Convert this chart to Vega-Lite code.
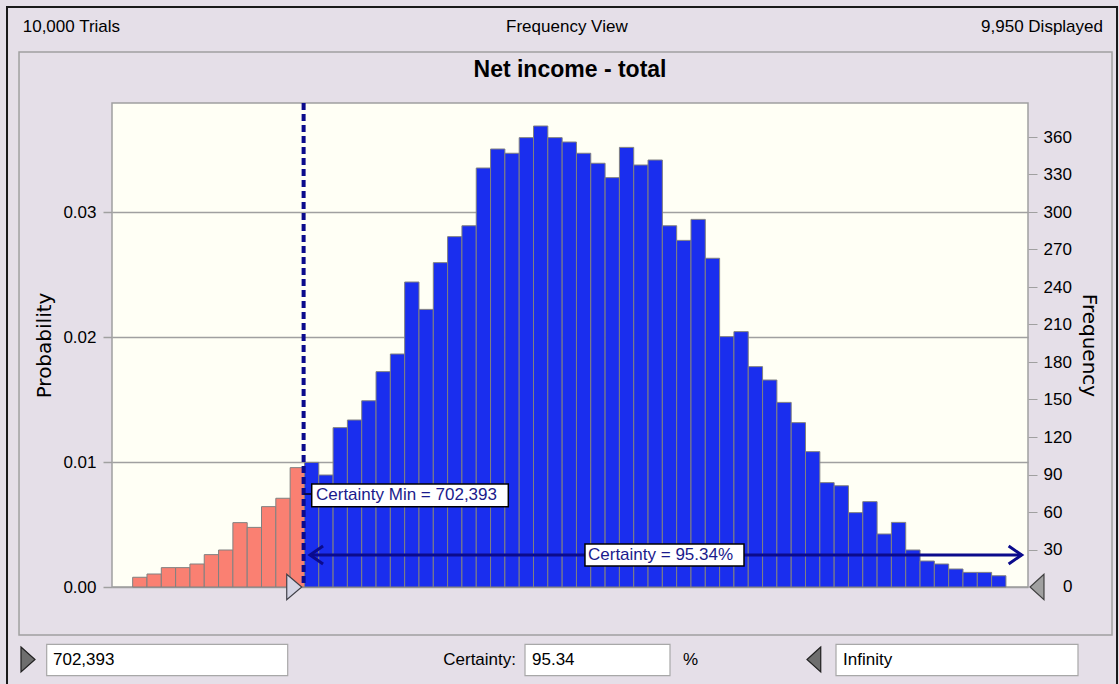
{
  "$schema": "https://vega.github.io/schema/vega-lite/v6.json",
  "width": 916,
  "height": 484,
  "autosize": {"type": "none"},
  "padding": {"left": 112, "top": 103, "right": 91, "bottom": 97},
  "background": "#E5DFE8",
  "config": {
    "font": "Liberation Sans",
    "view": {"fill": "#FFFFF5", "stroke": "#A0A0A0", "strokeWidth": 1.5}
  },
  "datasets": {
    "bins": [
      {"lo": -3127000, "hi": -2806300, "p": 0.00078},
      {"lo": -2806300, "hi": -2485600, "p": 0.00104},
      {"lo": -2485600, "hi": -2164900, "p": 0.00155},
      {"lo": -2164900, "hi": -1844200, "p": 0.00155},
      {"lo": -1844200, "hi": -1523500, "p": 0.00184},
      {"lo": -1523500, "hi": -1202800, "p": 0.00259},
      {"lo": -1202800, "hi": -882100, "p": 0.00296},
      {"lo": -882100, "hi": -561400, "p": 0.00515},
      {"lo": -561400, "hi": -240700, "p": 0.00477},
      {"lo": -240700, "hi": 80000, "p": 0.00643},
      {"lo": 80000, "hi": 400700, "p": 0.0071},
      {"lo": 400700, "hi": 721400, "p": 0.00955},
      {"lo": 721400, "hi": 1042100, "p": 0.00997},
      {"lo": 1042100, "hi": 1362800, "p": 0.00896},
      {"lo": 1362800, "hi": 1683500, "p": 0.01275},
      {"lo": 1683500, "hi": 2004200, "p": 0.01336},
      {"lo": 2004200, "hi": 2324900, "p": 0.0149},
      {"lo": 2324900, "hi": 2645600, "p": 0.01723},
      {"lo": 2645600, "hi": 2966300, "p": 0.01864},
      {"lo": 2966300, "hi": 3287000, "p": 0.0244},
      {"lo": 3287000, "hi": 3607700, "p": 0.02221},
      {"lo": 3607700, "hi": 3928400, "p": 0.02595},
      {"lo": 3928400, "hi": 4249100, "p": 0.02803},
      {"lo": 4249100, "hi": 4569800, "p": 0.0289},
      {"lo": 4569800, "hi": 4890500, "p": 0.03352},
      {"lo": 4890500, "hi": 5211200, "p": 0.03504},
      {"lo": 5211200, "hi": 5531900, "p": 0.0347},
      {"lo": 5531900, "hi": 5852600, "p": 0.03595},
      {"lo": 5852600, "hi": 6173300, "p": 0.03688},
      {"lo": 6173300, "hi": 6494000, "p": 0.03595},
      {"lo": 6494000, "hi": 6814700, "p": 0.0356},
      {"lo": 6814700, "hi": 7135400, "p": 0.0347},
      {"lo": 7135400, "hi": 7456100, "p": 0.0339},
      {"lo": 7456100, "hi": 7776800, "p": 0.03275},
      {"lo": 7776800, "hi": 8097500, "p": 0.03517},
      {"lo": 8097500, "hi": 8418200, "p": 0.03376},
      {"lo": 8418200, "hi": 8738900, "p": 0.03416},
      {"lo": 8738900, "hi": 9059600, "p": 0.0289},
      {"lo": 9059600, "hi": 9380300, "p": 0.02773},
      {"lo": 9380300, "hi": 9701000, "p": 0.02941},
      {"lo": 9701000, "hi": 10021700, "p": 0.0263},
      {"lo": 10021700, "hi": 10342400, "p": 0.02003},
      {"lo": 10342400, "hi": 10663100, "p": 0.02043},
      {"lo": 10663100, "hi": 10983800, "p": 0.01763},
      {"lo": 10983800, "hi": 11304500, "p": 0.01656},
      {"lo": 11304500, "hi": 11625200, "p": 0.01477},
      {"lo": 11625200, "hi": 11945900, "p": 0.01315},
      {"lo": 11945900, "hi": 12266600, "p": 0.01083},
      {"lo": 12266600, "hi": 12587300, "p": 0.00835},
      {"lo": 12587300, "hi": 12908000, "p": 0.0081},
      {"lo": 12908000, "hi": 13228700, "p": 0.00595},
      {"lo": 13228700, "hi": 13549400, "p": 0.00683},
      {"lo": 13549400, "hi": 13870100, "p": 0.00424},
      {"lo": 13870100, "hi": 14190800, "p": 0.00517},
      {"lo": 14190800, "hi": 14511500, "p": 0.00296},
      {"lo": 14511500, "hi": 14832200, "p": 0.00208},
      {"lo": 14832200, "hi": 15152900, "p": 0.00184},
      {"lo": 15152900, "hi": 15473600, "p": 0.00144},
      {"lo": 15473600, "hi": 15794300, "p": 0.00117},
      {"lo": 15794300, "hi": 16115000, "p": 0.00117},
      {"lo": 16115000, "hi": 16435700, "p": 0.0009}
    ]
  },
  "resolve": {"axis": {"y": "independent"}},
  "layer": [
    {
      "data": {"values": [{}]},
      "mark": {"type": "rect", "fill": "transparent", "stroke": "#1A1A1A", "strokeWidth": 2},
      "encoding": {
        "x": {"datum": -5942000, "type": "quantitative", "scale": {"domain": [-3590000, 16930000], "nice": false, "zero": false}, "axis": null},
        "x2": {"datum": 18924000},
        "y": {"datum": 0.0464, "type": "quantitative", "scale": {"domain": [0, 0.03872], "nice": false, "zero": false}, "axis": null},
        "y2": {"datum": -0.00904}
      }
    },
    {
      "data": {"values": [{}]},
      "mark": {"type": "rect", "fill": "transparent", "stroke": "#A0A0A0", "strokeWidth": 1.5},
      "encoding": {
        "x": {"datum": -5673000, "type": "quantitative", "scale": {"domain": [-3590000, 16930000], "nice": false, "zero": false}, "axis": null},
        "x2": {"datum": 18812000},
        "y": {"datum": 0.0428, "type": "quantitative", "scale": {"domain": [0, 0.03872], "nice": false, "zero": false}, "axis": null},
        "y2": {"datum": -0.00384}
      }
    },
    {
      "data": {"name": "bins"},
      "mark": {"type": "bar", "stroke": "#808080", "strokeWidth": 1},
      "encoding": {
        "x": {
          "field": "lo", "type": "quantitative",
          "scale": {"domain": [-3590000, 16930000], "nice": false, "zero": false},
          "axis": {
            "values": [-3000000, 0, 3000000, 6000000, 9000000, 12000000, 15000000],
            "format": ",", "title": null, "grid": false, "domain": false,
            "tickSize": 9, "tickColor": "#808080", "tickWidth": 1,
            "labelFontSize": 17, "labelColor": "#000000", "labelPadding": 3,
            "labelFlush": false, "labelOverlap": false
          }
        },
        "x2": {"field": "hi"},
        "y": {
          "field": "p", "type": "quantitative",
          "scale": {"domain": [0, 0.03872], "nice": false, "zero": false},
          "axis": {
            "values": [0, 0.01, 0.02, 0.03], "format": ".2f",
            "grid": true, "gridColor": "#A0A0A0", "gridWidth": 1.5, "gridOpacity": 1,
            "domain": false, "tickSize": 9, "tickColor": "#A0A0A0", "tickWidth": 1.5,
            "labelFontSize": 17, "labelColor": "#000000", "labelPadding": 7,
            "title": "Probability", "titleFont": "DejaVu Sans", "titleFontSize": 20,
            "titleFontWeight": "normal", "titleColor": "#000000", "titlePadding": 8
          }
        },
        "y2": {"datum": 0},
        "color": {"condition": {"test": "datum.lo < 702393", "value": "#FA8072"}, "value": "#1A2EEE"}
      }
    },
    {
      "data": {"name": "bins"},
      "mark": {"type": "bar", "opacity": 0},
      "encoding": {
        "x": {"field": "lo", "type": "quantitative", "scale": {"domain": [-3590000, 16930000], "nice": false, "zero": false}, "axis": null},
        "x2": {"field": "hi"},
        "y": {
          "field": "p", "type": "quantitative",
          "scale": {"domain": [0, 0.03872], "nice": false, "zero": false},
          "axis": {
            "orient": "right",
            "values": [0.003, 0.006, 0.009, 0.012, 0.015, 0.018, 0.021, 0.024, 0.027, 0.03, 0.033, 0.036],
            "labelExpr": "format(datum.value * 10000, 'd')",
            "grid": false, "domain": false, "tickSize": 9, "tickColor": "#A0A0A0", "tickWidth": 1,
            "labelFontSize": 17, "labelColor": "#000000", "labelPadding": 6,
            "title": "Frequency", "titleFont": "DejaVu Sans", "titleFontSize": 20,
            "titleFontWeight": "normal", "titleColor": "#000000", "titlePadding": 7
          }
        },
        "y2": {"datum": 0}
      }
    },
    {
      "data": {"values": [{}]},
      "mark": {"type": "rule", "stroke": "#0B0B8C", "strokeWidth": 4, "strokeDash": [7, 4]},
      "encoding": {
        "x": {"datum": 702393, "type": "quantitative", "scale": {"domain": [-3590000, 16930000], "nice": false, "zero": false}, "axis": null}
      }
    },
    {
      "data": {"values": [{}]},
      "mark": {"type": "rule", "stroke": "#0B0B50", "strokeWidth": 2},
      "encoding": {
        "x": {"datum": 702393, "type": "quantitative", "scale": {"domain": [-3590000, 16930000], "nice": false, "zero": false}, "axis": null},
        "x2": {"datum": 884000},
        "y": {"datum": 0.00744, "type": "quantitative", "scale": {"domain": [0, 0.03872], "nice": false, "zero": false}, "axis": null}
      }
    },
    {
      "data": {"values": [{}]},
      "mark": {"type": "rect", "fill": "#FFFFFF", "stroke": "#000000", "strokeWidth": 1.5},
      "encoding": {
        "x": {"datum": 884000, "type": "quantitative", "scale": {"domain": [-3590000, 16930000], "nice": false, "zero": false}, "axis": null},
        "x2": {"datum": 5288000},
        "y": {"datum": 0.00824, "type": "quantitative", "scale": {"domain": [0, 0.03872], "nice": false, "zero": false}, "axis": null},
        "y2": {"datum": 0.006424}
      }
    },
    {
      "data": {"values": [{"label": "Certainty Min = 702,393"}]},
      "mark": {"type": "text", "align": "left", "baseline": "middle", "fontSize": 17, "color": "#1A1A8C"},
      "encoding": {
        "text": {"field": "label"},
        "x": {"datum": 980000, "type": "quantitative", "scale": {"domain": [-3590000, 16930000], "nice": false, "zero": false}, "axis": null},
        "y": {"datum": 0.007336, "type": "quantitative", "scale": {"domain": [0, 0.03872], "nice": false, "zero": false}, "axis": null}
      }
    },
    {
      "data": {"values": [{}]},
      "mark": {"type": "rule", "stroke": "#0B0B8C", "strokeWidth": 3},
      "encoding": {
        "x": {"datum": 845537, "type": "quantitative", "scale": {"domain": [-3590000, 16930000], "nice": false, "zero": false}, "axis": null},
        "x2": {"datum": 16788827},
        "y": {"datum": 0.00256, "type": "quantitative", "scale": {"domain": [0, 0.03872], "nice": false, "zero": false}, "axis": null}
      }
    },
    {
      "data": {"values": [{}]},
      "mark": {"type": "point", "shape": "M -1.45 -1 L 0 0 L -1.45 1", "size": 324, "filled": false, "stroke": "#0B0B8C", "strokeWidth": 3, "opacity": 1},
      "encoding": {
        "x": {"datum": 16788827, "type": "quantitative", "scale": {"domain": [-3590000, 16930000], "nice": false, "zero": false}, "axis": null},
        "y": {"datum": 0.00256, "type": "quantitative", "scale": {"domain": [0, 0.03872], "nice": false, "zero": false}, "axis": null}
      }
    },
    {
      "data": {"values": [{}]},
      "mark": {"type": "point", "shape": "M 1.45 -1 L 0 0 L 1.45 1", "size": 324, "filled": false, "stroke": "#0B0B8C", "strokeWidth": 3, "opacity": 1},
      "encoding": {
        "x": {"datum": 845537, "type": "quantitative", "scale": {"domain": [-3590000, 16930000], "nice": false, "zero": false}, "axis": null},
        "y": {"datum": 0.00256, "type": "quantitative", "scale": {"domain": [0, 0.03872], "nice": false, "zero": false}, "axis": null}
      }
    },
    {
      "data": {"values": [{}]},
      "mark": {"type": "rect", "fill": "#FFFFFF", "stroke": "#000000", "strokeWidth": 1.5},
      "encoding": {
        "x": {"datum": 7005000, "type": "quantitative", "scale": {"domain": [-3590000, 16930000], "nice": false, "zero": false}, "axis": null},
        "x2": {"datum": 10568000},
        "y": {"datum": 0.00344, "type": "quantitative", "scale": {"domain": [0, 0.03872], "nice": false, "zero": false}, "axis": null},
        "y2": {"datum": 0.00168}
      }
    },
    {
      "data": {"values": [{"label": "Certainty = 95.34%"}]},
      "mark": {"type": "text", "align": "left", "baseline": "middle", "fontSize": 17, "color": "#1A1A8C"},
      "encoding": {
        "text": {"field": "label"},
        "x": {"datum": 7073000, "type": "quantitative", "scale": {"domain": [-3590000, 16930000], "nice": false, "zero": false}, "axis": null},
        "y": {"datum": 0.00256, "type": "quantitative", "scale": {"domain": [0, 0.03872], "nice": false, "zero": false}, "axis": null}
      }
    },
    {
      "data": {"values": [{}]},
      "mark": {"type": "point", "shape": "M -1.18 -1 L 0 0 L -1.18 1 Z", "size": 645, "filled": true, "fill": "#D4D4E4", "stroke": "#404048", "strokeWidth": 1.2, "opacity": 1},
      "encoding": {
        "x": {"datum": 660000, "type": "quantitative", "scale": {"domain": [-3590000, 16930000], "nice": false, "zero": false}, "axis": null},
        "y": {"datum": 0, "type": "quantitative", "scale": {"domain": [0, 0.03872], "nice": false, "zero": false}, "axis": null}
      }
    },
    {
      "data": {"values": [{}]},
      "mark": {"type": "point", "shape": "M 1.1 -1 L 0 0 L 1.1 1 Z", "size": 645, "filled": true, "fill": "#A0A0A0", "stroke": "#404040", "strokeWidth": 1.2, "opacity": 1},
      "encoding": {
        "x": {"datum": 16975000, "type": "quantitative", "scale": {"domain": [-3590000, 16930000], "nice": false, "zero": false}, "axis": null},
        "y": {"datum": 0, "type": "quantitative", "scale": {"domain": [0, 0.03872], "nice": false, "zero": false}, "axis": null}
      }
    },
    {
      "data": {"values": [{"label": "0"}]},
      "mark": {"type": "text", "align": "left", "baseline": "middle", "fontSize": 17, "color": "#000000"},
      "encoding": {
        "text": {"field": "label"},
        "x": {"datum": 17714000, "type": "quantitative", "scale": {"domain": [-3590000, 16930000], "nice": false, "zero": false}, "axis": null},
        "y": {"datum": 0, "type": "quantitative", "scale": {"domain": [0, 0.03872], "nice": false, "zero": false}, "axis": null}
      }
    },
    {
      "data": {"values": [{"label": "Net income - total"}]},
      "mark": {"type": "text", "align": "center", "baseline": "alphabetic", "fontSize": 23, "fontWeight": "bold", "color": "#000000"},
      "encoding": {
        "text": {"field": "label"},
        "x": {"datum": 6670000, "type": "quantitative", "scale": {"domain": [-3590000, 16930000], "nice": false, "zero": false}, "axis": null},
        "y": {"datum": 0.0408, "type": "quantitative", "scale": {"domain": [0, 0.03872], "nice": false, "zero": false}, "axis": null}
      }
    },
    {
      "data": {"values": [{"label": "10,000 Trials"}]},
      "mark": {"type": "text", "align": "left", "baseline": "alphabetic", "fontSize": 17, "color": "#000000"},
      "encoding": {
        "text": {"field": "label"},
        "x": {"datum": -5590000, "type": "quantitative", "scale": {"domain": [-3590000, 16930000], "nice": false, "zero": false}, "axis": null},
        "y": {"datum": 0.044424, "type": "quantitative", "scale": {"domain": [0, 0.03872], "nice": false, "zero": false}, "axis": null}
      }
    },
    {
      "data": {"values": [{"label": "Frequency View"}]},
      "mark": {"type": "text", "align": "center", "baseline": "alphabetic", "fontSize": 17, "color": "#000000"},
      "encoding": {
        "text": {"field": "label"},
        "x": {"datum": 6600000, "type": "quantitative", "scale": {"domain": [-3590000, 16930000], "nice": false, "zero": false}, "axis": null},
        "y": {"datum": 0.044424, "type": "quantitative", "scale": {"domain": [0, 0.03872], "nice": false, "zero": false}, "axis": null}
      }
    },
    {
      "data": {"values": [{"label": "9,950 Displayed"}]},
      "mark": {"type": "text", "align": "right", "baseline": "alphabetic", "fontSize": 17, "color": "#000000"},
      "encoding": {
        "text": {"field": "label"},
        "x": {"datum": 18610000, "type": "quantitative", "scale": {"domain": [-3590000, 16930000], "nice": false, "zero": false}, "axis": null},
        "y": {"datum": 0.044424, "type": "quantitative", "scale": {"domain": [0, 0.03872], "nice": false, "zero": false}, "axis": null}
      }
    },
    {
      "data": {"values": [{}]},
      "mark": {"type": "point", "shape": "M -1.12 -1 L 0 0 L -1.12 1 Z", "size": 625, "filled": true, "fill": "#6E6E6E", "stroke": "#202020", "strokeWidth": 1.2, "opacity": 1},
      "encoding": {
        "x": {"datum": -5315000, "type": "quantitative", "scale": {"domain": [-3590000, 16930000], "nice": false, "zero": false}, "axis": null},
        "y": {"datum": -0.0058, "type": "quantitative", "scale": {"domain": [0, 0.03872], "nice": false, "zero": false}, "axis": null}
      }
    },
    {
      "data": {"values": [{}]},
      "mark": {"type": "rect", "fill": "#FFFFFF", "stroke": "#A8A8A8", "strokeWidth": 1.2},
      "encoding": {
        "x": {"datum": -5053000, "type": "quantitative", "scale": {"domain": [-3590000, 16930000], "nice": false, "zero": false}, "axis": null},
        "x2": {"datum": 346000},
        "y": {"datum": -0.004584, "type": "quantitative", "scale": {"domain": [0, 0.03872], "nice": false, "zero": false}, "axis": null},
        "y2": {"datum": -0.007096}
      }
    },
    {
      "data": {"values": [{"label": "702,393"}]},
      "mark": {"type": "text", "align": "left", "baseline": "middle", "fontSize": 17, "color": "#000000"},
      "encoding": {
        "text": {"field": "label"},
        "x": {"datum": -4912000, "type": "quantitative", "scale": {"domain": [-3590000, 16930000], "nice": false, "zero": false}, "axis": null},
        "y": {"datum": -0.00584, "type": "quantitative", "scale": {"domain": [0, 0.03872], "nice": false, "zero": false}, "axis": null}
      }
    },
    {
      "data": {"values": [{"label": "Certainty:"}]},
      "mark": {"type": "text", "align": "right", "baseline": "middle", "fontSize": 17, "color": "#000000"},
      "encoding": {
        "text": {"field": "label"},
        "x": {"datum": 5460000, "type": "quantitative", "scale": {"domain": [-3590000, 16930000], "nice": false, "zero": false}, "axis": null},
        "y": {"datum": -0.00584, "type": "quantitative", "scale": {"domain": [0, 0.03872], "nice": false, "zero": false}, "axis": null}
      }
    },
    {
      "data": {"values": [{}]},
      "mark": {"type": "rect", "fill": "#FFFFFF", "stroke": "#A8A8A8", "strokeWidth": 1.2},
      "encoding": {
        "x": {"datum": 5662000, "type": "quantitative", "scale": {"domain": [-3590000, 16930000], "nice": false, "zero": false}, "axis": null},
        "x2": {"datum": 8910000},
        "y": {"datum": -0.004584, "type": "quantitative", "scale": {"domain": [0, 0.03872], "nice": false, "zero": false}, "axis": null},
        "y2": {"datum": -0.007096}
      }
    },
    {
      "data": {"values": [{"label": "95.34"}]},
      "mark": {"type": "text", "align": "left", "baseline": "middle", "fontSize": 17, "color": "#000000"},
      "encoding": {
        "text": {"field": "label"},
        "x": {"datum": 5819000, "type": "quantitative", "scale": {"domain": [-3590000, 16930000], "nice": false, "zero": false}, "axis": null},
        "y": {"datum": -0.00584, "type": "quantitative", "scale": {"domain": [0, 0.03872], "nice": false, "zero": false}, "axis": null}
      }
    },
    {
      "data": {"values": [{"label": "%"}]},
      "mark": {"type": "text", "align": "left", "baseline": "middle", "fontSize": 17, "color": "#000000"},
      "encoding": {
        "text": {"field": "label"},
        "x": {"datum": 9201000, "type": "quantitative", "scale": {"domain": [-3590000, 16930000], "nice": false, "zero": false}, "axis": null},
        "y": {"datum": -0.00584, "type": "quantitative", "scale": {"domain": [0, 0.03872], "nice": false, "zero": false}, "axis": null}
      }
    },
    {
      "data": {"values": [{}]},
      "mark": {"type": "point", "shape": "M 1.1 -1 L 0 0 L 1.1 1 Z", "size": 625, "filled": true, "fill": "#6E6E6E", "stroke": "#202020", "strokeWidth": 1.2, "opacity": 1},
      "encoding": {
        "x": {"datum": 11979000, "type": "quantitative", "scale": {"domain": [-3590000, 16930000], "nice": false, "zero": false}, "axis": null},
        "y": {"datum": -0.0058, "type": "quantitative", "scale": {"domain": [0, 0.03872], "nice": false, "zero": false}, "axis": null}
      }
    },
    {
      "data": {"values": [{}]},
      "mark": {"type": "rect", "fill": "#FFFFFF", "stroke": "#A8A8A8", "strokeWidth": 1.2},
      "encoding": {
        "x": {"datum": 12629000, "type": "quantitative", "scale": {"domain": [-3590000, 16930000], "nice": false, "zero": false}, "axis": null},
        "x2": {"datum": 18050000},
        "y": {"datum": -0.004584, "type": "quantitative", "scale": {"domain": [0, 0.03872], "nice": false, "zero": false}, "axis": null},
        "y2": {"datum": -0.007096}
      }
    },
    {
      "data": {"values": [{"label": "Infinity"}]},
      "mark": {"type": "text", "align": "left", "baseline": "middle", "fontSize": 17, "color": "#000000"},
      "encoding": {
        "text": {"field": "label"},
        "x": {"datum": 12786000, "type": "quantitative", "scale": {"domain": [-3590000, 16930000], "nice": false, "zero": false}, "axis": null},
        "y": {"datum": -0.00584, "type": "quantitative", "scale": {"domain": [0, 0.03872], "nice": false, "zero": false}, "axis": null}
      }
    }
  ]
}
